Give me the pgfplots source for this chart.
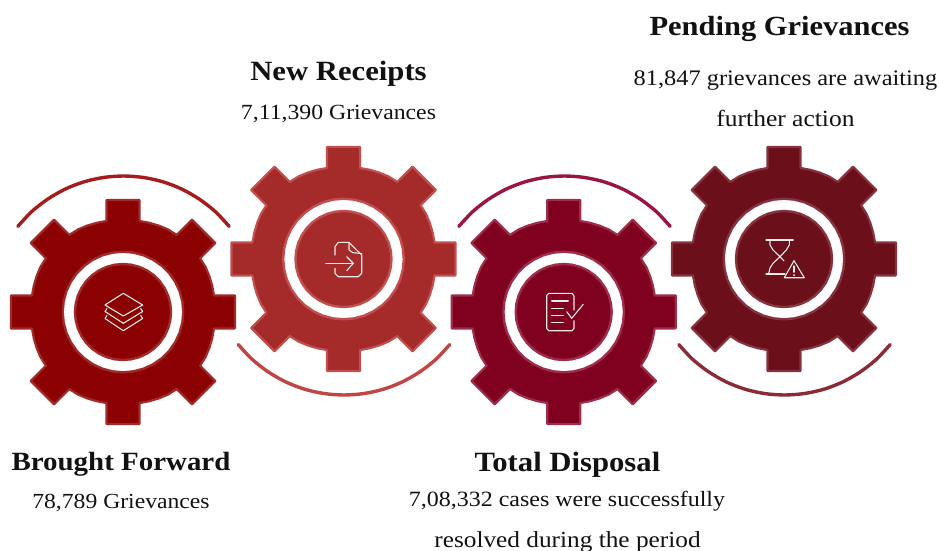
\documentclass[border=0pt]{standalone}
\usepackage{fontspec}
\usepackage{pgfplots}
\usepackage{pgfplotstable}
\pgfplotsset{compat=1.18}
\setmainfont[FakeStretch=1.1]{Liberation Serif}
\definecolor{gA}{HTML}{8B0000}\definecolor{eA}{HTML}{A12A2A}\definecolor{aA}{HTML}{A51C1C}
\definecolor{gB}{HTML}{A52A2A}\definecolor{eB}{HTML}{C24E4E}\definecolor{aB}{HTML}{C04545}
\definecolor{gC}{HTML}{800020}\definecolor{eC}{HTML}{9E2C4A}\definecolor{aC}{HTML}{99173F}
\definecolor{gD}{HTML}{6B0F1A}\definecolor{eD}{HTML}{87333F}\definecolor{aD}{HTML}{8A2B38}
\definecolor{ink}{HTML}{111111}
\pgfplotstableread{
x y
112 16.5
91 16.5
89.17 26.41
86.38 35.78
82.64 44.86
77.07 53.74
92.3 69
69 92.3
53.74 77.07
44.86 82.64
35.78 86.38
26.41 89.17
16.5 91
16.5 112
-16.5 112
-16.5 91
-26.41 89.17
-35.78 86.38
-44.86 82.64
-53.74 77.07
-69 92.3
-92.3 69
-77.07 53.74
-82.64 44.86
-86.38 35.78
-89.17 26.41
-91 16.5
-112 16.5
-112 -16.5
-91 -16.5
-89.17 -26.41
-86.38 -35.78
-82.64 -44.86
-77.07 -53.74
-92.3 -69
-69 -92.3
-53.74 -77.07
-44.86 -82.64
-35.78 -86.38
-26.41 -89.17
-16.5 -91
-16.5 -112
16.5 -112
16.5 -91
26.41 -89.17
35.78 -86.38
44.86 -82.64
53.74 -77.07
69 -92.3
92.3 -69
77.07 -53.74
82.64 -44.86
86.38 -35.78
89.17 -26.41
91 -16.5
112 -16.5
112 16.5
}\geartable
\pgfplotstableread{
x y
1 0
.9848 .1736
.9397 .3420
.8660 .5
.7660 .6428
.6428 .7660
.5 .8660
.3420 .9397
.1736 .9848
0 1
-.1736 .9848
-.3420 .9397
-.5 .8660
-.6428 .7660
-.7660 .6428
-.8660 .5
-.9397 .3420
-.9848 .1736
-1 0
-.9848 -.1736
-.9397 -.3420
-.8660 -.5
-.7660 -.6428
-.6428 -.7660
-.5 -.8660
-.3420 -.9397
-.1736 -.9848
0 -1
.1736 -.9848
.3420 -.9397
.5 -.8660
.6428 -.7660
.7660 -.6428
.8660 -.5
.9397 -.3420
.9848 -.1736
1 0
}\circletable
\pgfplotstableread{
x y
105.7 85.6
91.9 100.3
76.05 112.7
58.5 122.8
39.8 130.1
20.1 134.5
0 136
-20.1 134.5
-39.8 130.1
-58.5 122.8
-76.05 112.7
-91.9 100.3
-105.7 85.6
}\arctable
\newcommand{\gearat}[5]{%
  \addplot[fill=#3,draw=#4,line width=2.2pt,line join=round] table[x expr=\thisrow{x}+#1,y expr=\thisrow{y}+#2] {\geartable};
  \addplot[fill=white,draw=#4,line width=2.4pt] table[x expr=60.3*\thisrow{x}+#1,y expr=60.3*\thisrow{y}+#2] {\circletable};
  \addplot[fill=#3,draw=#4,line width=2.4pt] table[x expr=48*\thisrow{x}+#1,y expr=48*\thisrow{y}+#2] {\circletable};
}
\newcommand{\txt}[4]{\node[anchor=base,text=ink,inner sep=0pt,font=\fontsize{#3}{#3}\selectfont] at (axis cs:#1,#2) {#4};}
\begin{document}
\begin{tikzpicture}
\clip (0,0) rectangle (939pt,551pt);
\begin{axis}[hide axis,scale only axis,width=939pt,height=551pt,xmin=0,xmax=939,ymin=0,ymax=551,y dir=reverse,clip=false,
  icon/.style={draw=white!92!black,line width=1.1pt,line join=round,line cap=round,no marks},
  every axis plot/.append style={no marks}]
% arcs
\addplot[aA,line width=3.4pt,line cap=round,smooth] table[x expr=\thisrow{x}+123.5,y expr=312-\thisrow{y}] {\arctable};
\addplot[aB,line width=3.4pt,line cap=round,smooth] table[x expr=\thisrow{x}+344,y expr=259+\thisrow{y}] {\arctable};
\addplot[aC,line width=3.4pt,line cap=round,smooth] table[x expr=\thisrow{x}+564.5,y expr=312-\thisrow{y}] {\arctable};
\addplot[aD,line width=3.4pt,line cap=round,smooth] table[x expr=\thisrow{x}+784.5,y expr=259+\thisrow{y}] {\arctable};
% gears
\gearat{123}{312}{gA}{eA}{aA}
\gearat{343.5}{259}{gB}{eB}{aB}
\gearat{563.7}{312}{gC}{eC}{aC}
\gearat{784}{259}{gD}{eD}{aD}
% icon 1: layers
\addplot[icon] coordinates {(123.3,293.3)(142.7,305)(123.3,316)(105,305)(123.3,293.3)};
\addplot[icon] coordinates {(107,308.5)(105,311.5)(123.3,323.3)(142.7,311.5)(140.7,308.5)};
\addplot[icon] coordinates {(107,315.5)(105,318.5)(123.3,330.7)(142.7,318.5)(140.7,315.5)};
% icon 2: document with arrow
\addplot[icon] coordinates {(335,255)(335,246.7)(338.3,242.3)(349,242.3)(361.7,255)(361.7,273.3)(358.3,276.7)(338.3,276.7)(335,273.3)(335,268.3)};
\addplot[icon] coordinates {(349,242.3)(349,250)(353,252.7)(361.7,253.5)};
\addplot[icon] coordinates {(326,263.3)(353.3,263.3)};
\addplot[icon] coordinates {(346.7,256.7)(353.3,263.3)(346.7,270.7)};
% icon 3: checklist
\addplot[icon] coordinates {(574,310)(574,296)(572,293.3)(548.7,293.3)(546.7,295.5)(546.7,328.5)(548.7,330.7)(572,330.7)(574,328.5)(574,320.7)};
\addplot[icon] coordinates {(551.7,301)(568.3,301)};
\addplot[icon] coordinates {(551.7,308.3)(563.3,308.3)};
\addplot[icon] coordinates {(551.7,315.7)(563.3,315.7)};
\addplot[icon] coordinates {(551.7,322.7)(563.3,322.7)};
\addplot[icon] coordinates {(566.7,311.7)(571.7,318.3)(583.3,304.3)};
% icon 4: hourglass and warning
\addplot[icon] coordinates {(766,240)(793.3,240)};
\addplot[icon] coordinates {(766,274)(785,274)};
\addplot[icon] coordinates {(770,240)(770,245)(773,250)(780,256.7)(773,263.3)(770,268)(768.5,274)};
\addplot[icon] coordinates {(789.3,240)(789.3,245)(786.3,250)(780,256.7)(784,261)};
\addplot[icon] coordinates {(794,260.7)(804.3,277.7)(784.3,277.7)(794,260.7)};
\addplot[icon] coordinates {(794,266)(794,272.2)};
\addplot[icon] coordinates {(794,274.8)(794,275.4)};
% text
\txt{779.5}{36}{27.7}{\bfseries Pending Grievances}
\txt{785.5}{85}{22.2}{81,847 grievances are awaiting}
\txt{785.5}{126}{23.2}{further action}
\txt{338.5}{81}{27.9}{\bfseries New Receipts}
\txt{338.5}{119}{21.6}{7,11,390 Grievances}
\txt{121}{470}{26.3}{\bfseries Brought Forward}
\txt{121}{508}{21.5}{78,789 Grievances}
\txt{567.5}{471}{27.9}{\bfseries Total Disposal}
\txt{567}{506}{21.8}{7,08,332 cases were successfully}
\txt{567.5}{547}{23}{resolved during the period}
\end{axis}
\end{tikzpicture}
\end{document}
